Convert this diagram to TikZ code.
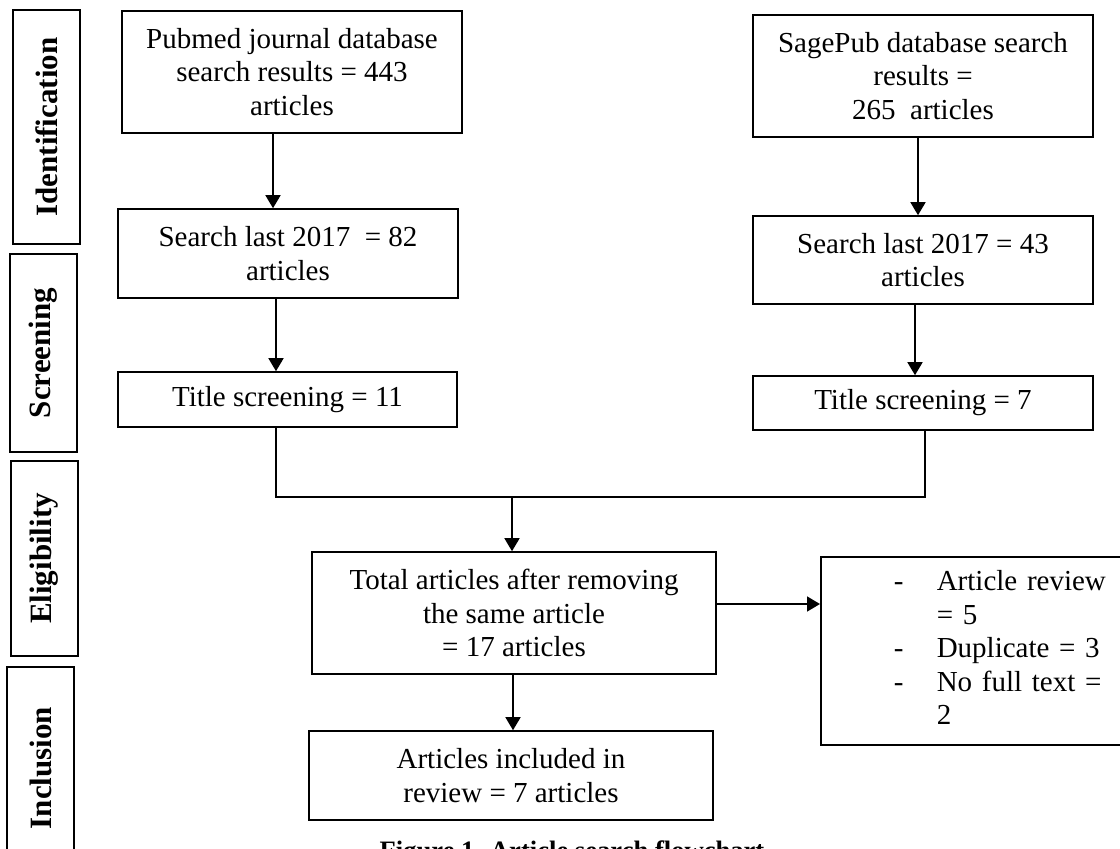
\documentclass[tikz,border=0pt]{standalone}
\usepackage{fontspec}
\setmainfont{Liberation Serif}
\usetikzlibrary{arrows.meta,calc}
\begin{document}
\begin{tikzpicture}[x=0.5pt,y=-0.5pt,
 box/.style={draw, line width=0.8pt, align=center, inner sep=0pt, font=\fontsize{14.5}{16.75}\selectfont},
 stagebox/.style={draw, line width=0.8pt, inner sep=0pt, rotate=90, minimum height=33.5pt, font=\fontsize{15.5}{18}\selectfont\bfseries},
 arr/.style={line width=0.8pt, -{Triangle[length=6.5pt,width=7.5pt]}},
 link/.style={line width=0.8pt}]
\useasboundingbox (0,0) rectangle (1120,848);
% stage labels
\node[stagebox, minimum width=117pt] (ident) at (46.5,127) {Identification};
\node[stagebox, minimum width=99pt] (screen) at (43.5,353) {Screening};
\node[stagebox, minimum width=97.5pt] (elig) at (44.5,558.5) {Eligibility};
\node[stagebox, minimum width=101pt] (incl) at (40.5,768) {Inclusion};
% boxes
\node[box, minimum width=170pt, minimum height=61pt] (pubmed) at (292,72) {Pubmed journal database\\search results = 443\\articles};
\node[box, minimum width=170pt, minimum height=61pt] (sage) at (923,76) {SagePub database search\\results =\\265\ \ articles};
\node[box, minimum width=170pt, minimum height=44.5pt] (searchL) at (288,253.5) {Search last 2017\ \ = 82\\articles};
\node[box, minimum width=170pt, minimum height=44pt] (searchR) at (923,260) {Search last 2017 = 43\\articles};
\node[box, minimum width=169.5pt, minimum height=27.5pt] (titleL) at (287.5,399.5) {Title screening = 11};
\node[box, minimum width=170pt, minimum height=27pt] (titleR) at (923,403) {Title screening = 7};
\node[box, minimum width=202pt, minimum height=61pt] (total) at (514,613) {Total articles after removing\\the same article\\= 17 articles};
\node[box, minimum width=202pt, minimum height=44.5pt] (final) at (511,775.5) {Articles included in\\review = 7 articles};
\node[box, anchor=north west, minimum height=94pt, inner xsep=36.5pt, inner ysep=0pt, align=left, text width=130pt] (excl) at (820,556) {\begin{tabular}{@{}p{21.5pt}@{}l@{}}-&Article review\\&= 5\\-&Duplicate = 3\\-&No full text =\\&2\end{tabular}};
% caption
\node[font=\fontsize{13.3}{16}\selectfont\bfseries, anchor=base, inner sep=0pt] (cap) at (572,859) {Figure 1. Article search flowchart};
% helper coordinates
\coordinate (xa) at (273,0);
\coordinate (xb) at (276,0);
\coordinate (xc) at (918,0);
\coordinate (xd) at (915,0);
\coordinate (xf) at (513,0);
\coordinate (ya) at (0,604);
\coordinate (jL) at (276,497);
\coordinate (jR) at (925,497);
\coordinate (jM) at (512,497);
% connectors
\draw[arr] (pubmed.south -| xa) -- (searchL.north -| xa);
\draw[arr] (searchL.south -| xb) -- (titleL.north -| xb);
\draw[arr] (sage.south -| xc) -- (searchR.north -| xc);
\draw[arr] (searchR.south -| xd) -- (titleR.north -| xd);
\draw[link] (titleL.south -| jL) -- (jL) -- (jR) -- (titleR.south -| jR);
\draw[arr] (jM) -- (total.north -| jM);
\draw[arr] (total.east |- ya) -- (excl.west |- ya);
\draw[arr] (total.south -| xf) -- (final.north -| xf);
\end{tikzpicture}
\end{document}
